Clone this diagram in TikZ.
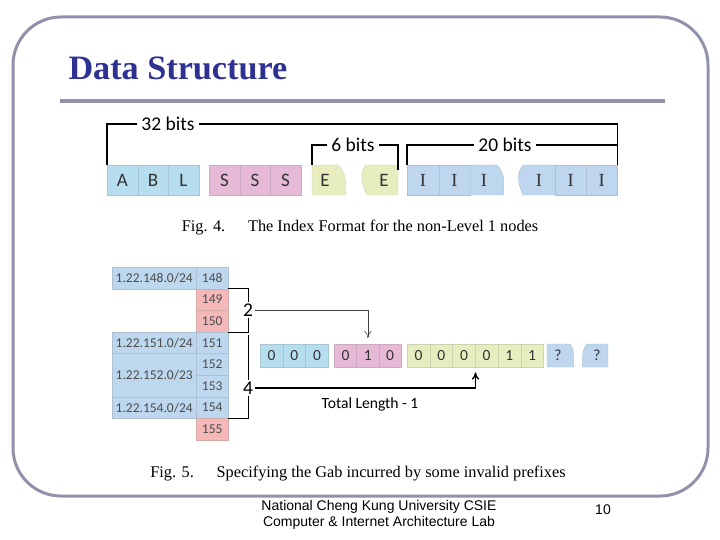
\documentclass[tikz,border=0pt]{standalone}
\usepackage{fontspec}
\setmainfont{Liberation Serif}
\newfontfamily\calfont{Carlito}
\newfontfamily\arialfont{Liberation Sans}
\usetikzlibrary{arrows.meta, positioning, calc}
\definecolor{framegray}{RGB}{144,146,171}
\definecolor{navy}{RGB}{46,49,146}
\definecolor{abl}{RGB}{182,222,238}
\definecolor{sss}{RGB}{230,186,214}
\definecolor{eee}{RGB}{232,237,192}
\definecolor{iii}{RGB}{190,214,238}
\definecolor{tblue}{RGB}{189,215,238}
\definecolor{tred}{RGB}{244,184,184}
\tikzset{
  cell/.style={draw=#1!75!gray, fill=#1, line width=0.4pt, anchor=north west, inner sep=0pt, text=black!80,
    minimum height=30pt, minimum width=30.5pt, font=\calfont\fontsize{19}{19}\selectfont},
  bit/.style={cell=#1, minimum height=23pt, minimum width=22.7pt, font=\calfont\fontsize{15.5}{15.5}\selectfont},
  tcell/.style={cell=#1, minimum height=21.6pt, minimum width=32pt, text=black!70, font=\calfont\fontsize{13.5}{13.5}\selectfont},
  wave/.style={fill=#1, draw=#1!75!gray, line width=0.4pt},
  brace/.style={line width=1.4pt},
  lbl/.style={fill=white, inner xsep=4.5pt, inner ysep=2pt, font=\calfont\fontsize{19.5}{19.5}\selectfont},
  thinarr/.style={-{To[length=2.5mm, width=2.5mm]}, line width=0.6pt, draw=black!75},
  thickarr/.style={-{To[length=2.5mm, width=2.5mm]}, line width=1.4pt},
  caption/.style={font=\fontsize{16.3}{16.3}\selectfont},
}

\begin{document}
\begin{tikzpicture}[x=1pt, y=-1pt]
  \useasboundingbox (0,0) rectangle (720,540);
  % slide frame and title
  \draw[framegray, line width=3pt, rounded corners=48pt] (13,17) rectangle (708,496);
  \node[anchor=west, text=navy, font=\bfseries\fontsize{34.2}{34.2}\selectfont] (title) at (65,68) {Data Structure};
  \draw[framegray, line width=4pt] (60,101) -- (665,101);

  % Fig. 4: index format
  \foreach \t [count=\i from 0] in {A,B,L}
    \node[cell=abl] (a\i) at ({107+30.5*\i},165) {\t};
  \foreach \t [count=\i from 0] in {S,S,S}
    \node[cell=sss] (s\i) at ({209+30.5*\i},165) {\t};
  \draw[wave=eee] (312,165) -- (338,165) .. controls (350,177) and (343,188) .. (346,195) -- (312,195) -- cycle;
  \draw[wave=eee] (366,165) -- (398,165) -- (398,195) -- (367,195) .. controls (363,186) and (358,174) .. (366,165);
  \node[text=black!80, font=\calfont\fontsize{19}{19}\selectfont] (e0) at (325,180) {E};
  \node[text=black!80, font=\calfont\fontsize{19}{19}\selectfont] (e1) at (384,180) {E};
  \foreach \i in {0,1}
    \node[cell=iii, minimum width=31.5pt, font=\fontsize{18.5}{18.5}\selectfont] (i\i) at ({407+31.5*\i},165) {I};
  \draw[wave=iii] (470,165) -- (497,165) .. controls (508,177) and (502,188) .. (504,195) -- (470,195) -- cycle;
  \node[text=black!80, font=\fontsize{18.5}{18.5}\selectfont] (i2) at (484,180) {I};
  \draw[wave=iii] (523,165) -- (555,165) -- (555,195) -- (523,195) .. controls (519,186) and (515,174) .. (523,165);
  \foreach \i in {0,1}
    \node[cell=iii, minimum width=31pt, font=\fontsize{18.5}{18.5}\selectfont] (i\the\numexpr\i+4\relax) at ({555+31*\i},165) {I};
  \node[text=black!80, font=\fontsize{18.5}{18.5}\selectfont] (i3) at (539,180) {I};

  \draw[brace] (a0.north west) -- ++(0,-41) -| (i5.north east);
  \draw[brace] (312,165) -- ++(0,-20) -| (e1.north -| 398,0);
  \draw[brace] (i0.north west) -- ++(0,-20) -- (617,145);
  \node[lbl] at (168,124) {32 bits};
  \node[lbl] at (353,145) {6 bits};
  \node[lbl] at (505,145) {20 bits};
  \node[caption] (cap4) at (360,228) {Fig. 4.\hspace{1.4em}The Index Format for the non-Level 1 nodes};

  % Fig. 5: gap table
  \foreach \n/\c [count=\i from 0] in {148/tblue,149/tred,150/tred,151/tblue,152/tblue,153/tblue,154/tblue,155/tred}
    \node[tcell=\c] (n\n) at (196,{267+21.6*\i}) {\n};
  \node[tcell=tblue, minimum width=84pt] (p148) at (112,267) {1.22.148.0/24};
  \node[tcell=tblue, minimum width=84pt] (p151) at (112,331.8) {1.22.151.0/24};
  \node[tcell=tblue, minimum width=84pt, minimum height=43.2pt] (p152) at (112,353.4) {1.22.152.0/23};
  \node[tcell=tblue, minimum width=84pt] (p154) at (112,396.6) {1.22.154.0/24};

  \draw[brace] (n149.north east) -- ++(20,0) |- (n150.south east);
  \draw[brace] ([xshift=20pt, yshift=-3pt]n151.north east) |- (n154.south east);
  \node[lbl, inner xsep=2pt] (g2) at (248,310) {2};
  \node[lbl, inner xsep=2pt] (g4) at (248,388) {4};

  % bit string
  \foreach \t [count=\i from 0] in {0,0,0}
    \node[bit=abl] (c\i) at ({260+22.7*\i},344) {\t};
  \foreach \t [count=\i from 0] in {0,1,0}
    \node[bit=sss] (b\i) at ({334+22.3*\i},344) {\t};
  \foreach \t [count=\i from 0] in {0,0,0,0,1,1}
    \node[bit=eee] (y\i) at ({407+22.7*\i},344) {\t};
  \draw[wave=iii] (547,344) -- (570,344) .. controls (576,352) and (572,360) .. (574,367) -- (547,367) -- cycle;
  \draw[wave=iii] (587,344) -- (608,344) -- (608,367) -- (582,367) .. controls (584,360) and (580,352) .. (587,344);
  \node[text=black!80, font=\calfont\fontsize{15.5}{15.5}\selectfont] (q0) at (558,355.5) {?};
  \node[text=black!80, font=\calfont\fontsize{15.5}{15.5}\selectfont] (q1) at (597,355.5) {?};

  \draw[thinarr] (g2.east) -| ([yshift=6pt]b1.north);
  \draw[thickarr] (g4.east) -| ([yshift=-5pt]y2.south east);
  \node[font=\calfont\fontsize{15.6}{15.6}\selectfont] (total) at (370,404) {Total Length - 1};
  \node[caption] (cap5) at (358,474) {Fig. 5.\hspace{1.4em}Specifying the Gab incurred by some invalid prefixes};

  % footer
  \node[align=center, font=\arialfont\fontsize{14}{16}\selectfont] (foot) at (379,515) {National Cheng Kung University CSIE\\Computer \& Internet Architecture Lab};
  \node[font=\arialfont\fontsize{14}{14}\selectfont] (page) at (603,510) {10};
\end{tikzpicture}
\end{document}
